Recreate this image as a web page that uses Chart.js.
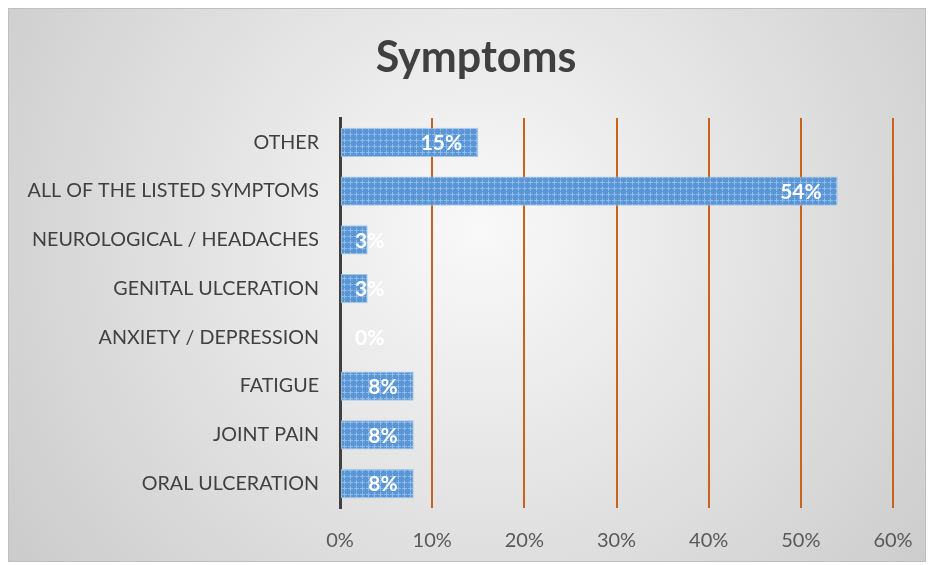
<!DOCTYPE html>
<html>
<head>
<meta charset="utf-8">
<script src="https://cdn.jsdelivr.net/npm/chart.js@4/dist/chart.umd.min.js"></script>
<style>
  html, body { margin: 0; padding: 0; background: #ffffff; }
  #wrap { width: 931px; height: 565px; position: relative; }
</style>
</head>
<body>
<div id="wrap"><canvas id="chart" width="931" height="565"></canvas></div>
<script>
// ── Data ──────────────────────────────────────────────────────────────
const symptoms = [
  'OTHER',
  'ALL OF THE LISTED SYMPTOMS',
  'NEUROLOGICAL / HEADACHES',
  'GENITAL ULCERATION',
  'ANXIETY / DEPRESSION',
  'FATIGUE',
  'JOINT PAIN',
  'ORAL ULCERATION',
];
const shares = [15, 54, 3, 3, 0, 8, 8, 8];   // percent of respondents
const xTicks = [0, 10, 20, 30, 40, 50, 60];

const FONT = "Lato, 'Open Sans', sans-serif";

// ── Bar fill: blue with a light dotted texture ─────────────────────────
function makePattern() {
  const c = document.createElement('canvas');
  c.width = 6; c.height = 6;
  const g = c.getContext('2d');
  g.fillStyle = '#5a95d6';
  g.fillRect(0, 0, 6, 6);
  g.fillStyle = '#8dbbea';
  g.fillRect(2, 0, 1, 5);
  g.fillRect(0, 2, 5, 1);
  return g.createPattern(c, 'repeat');
}

// ── Plugin: card background with radial grey gradient ─────────────────
const cardPlugin = {
  id: 'card',
  beforeDraw(chart) {
    const { ctx, width, height } = chart;
    ctx.save();
    ctx.fillStyle = '#ffffff';
    ctx.fillRect(0, 0, width, height);
    const grad = ctx.createRadialGradient(480, 230, 0, 480, 230, 640);
    grad.addColorStop(0, '#f9f9f9');
    grad.addColorStop(1, '#c6c6c6');
    ctx.fillStyle = grad;
    ctx.fillRect(8, 8, 918, 554);
    ctx.strokeStyle = '#bfbfbf';
    ctx.lineWidth = 1;
    ctx.strokeRect(8.5, 8.5, 917, 553);
    // title
    ctx.fillStyle = '#404040';
    ctx.font = `bold 43px ${FONT}`;
    ctx.textAlign = 'center';
    ctx.textBaseline = 'middle';
    ctx.fillText('Symptoms', 476, 58);
    ctx.restore();
  },
};

// ── Plugin: white value labels at the inside end of each bar ──────────
const valueLabelPlugin = {
  id: 'valueLabels',
  afterDatasetsDraw(chart) {
    const { ctx } = chart;
    const base = chart.scales.x.getPixelForValue(0);
    ctx.save();
    ctx.fillStyle = '#ffffff';
    ctx.font = `bold 21px ${FONT}`;
    ctx.textAlign = 'left';
    ctx.textBaseline = 'middle';
    chart.getDatasetMeta(0).data.forEach((bar, i) => {
      const txt = shares[i] + '%';
      const w = ctx.measureText(txt).width;
      const x = Math.max(bar.x - 16 - w, base + 15);
      ctx.fillText(txt, x, bar.y + 1);
    });
    ctx.restore();
  },
};

new Chart(document.getElementById('chart'), {
  type: 'bar',
  data: {
    labels: symptoms,
    datasets: [{
      data: shares,
      backgroundColor: makePattern(),
      borderColor: 'rgba(157,195,230,0.9)',
      borderWidth: 1,
      borderSkipped: false,
      categoryPercentage: 1,
      barPercentage: 0.6,
    }],
  },
  options: {
    indexAxis: 'y',
    responsive: false,
    animation: false,
    layout: { padding: { top: 118, right: 38, bottom: 0, left: 0 } },
    plugins: {
      legend: { display: false },
      tooltip: { enabled: false },
    },
    scales: {
      x: {
        min: 0,
        max: 60,
        afterBuildTicks(scale) { scale.ticks = xTicks.map(v => ({ value: v })); },
        afterFit(scale) {
          scale.height = 57;
          scale.paddingLeft = 0;
          scale.paddingRight = 0;
        },
        grid: {
          drawTicks: false,
          lineWidth: 2,
          color: ctx => (ctx.tick && ctx.tick.value === 0 ? 'rgba(0,0,0,0)' : '#c9621c'),
        },
        border: { display: false },
        ticks: {
          padding: 21,
          color: '#595959',
          font: { size: 20, family: FONT },
          callback: v => v + '%',
        },
      },
      y: {
        afterFit(scale) { scale.width = 340; },
        grid: { display: false, drawTicks: false },
        border: { display: true, color: '#404040', width: 3 },
        ticks: {
          padding: 21,
          color: '#404040',
          font: { size: 19.7, family: FONT },
        },
      },
    },
  },
  plugins: [cardPlugin, valueLabelPlugin],
});
</script>
</body>
</html>
